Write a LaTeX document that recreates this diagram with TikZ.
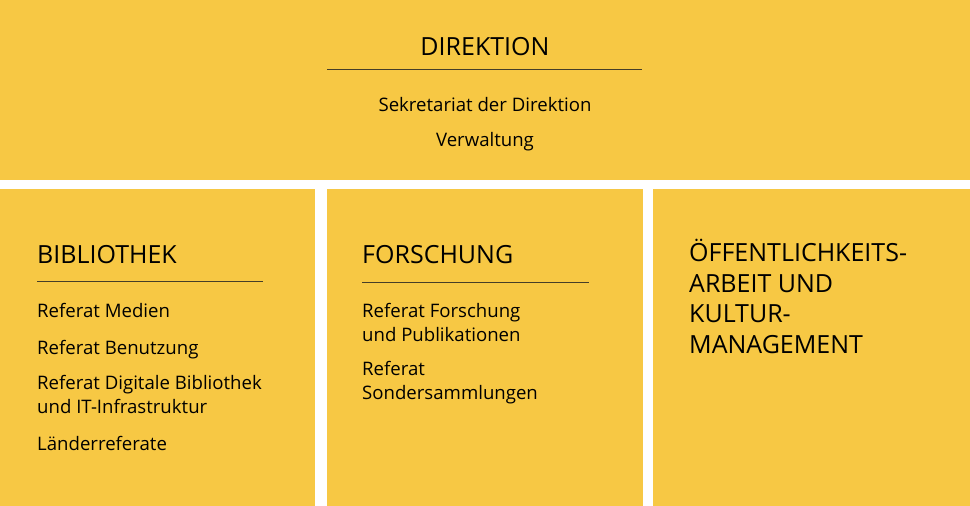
\documentclass[tikz,border=0pt]{standalone}
\usepackage{fontspec}
\setmainfont{Open Sans}
\definecolor{sunflower}{RGB}{247, 200, 68}
\definecolor{rulegray}{RGB}{70, 62, 40}

\tikzset{
  title/.style={anchor=base west, inner sep=0pt, font=\fontsize{25}{30.5}\selectfont, align=left},
  item/.style={anchor=base west, inner sep=0pt, font=\fontsize{18.6}{23.5}\selectfont, align=left},
  rulerline/.style={draw=rulegray, line width=0.9pt}
}

\begin{document}
\begin{tikzpicture}[x=1pt, y=-1pt]
    \useasboundingbox (0,0) rectangle (970,506);
    \fill[white]     (0,0) rectangle (970,506);
    \fill[sunflower] (0,0)   rectangle (970,180);
    \fill[sunflower] (0,189) rectangle (315,506);
    \fill[sunflower] (327,189) rectangle (643,506);
    \fill[sunflower] (653,189) rectangle (970,506);

    % direktion
    \node[title, anchor=base] (direktion) at (485,55) {DIREKTION};
    \coordinate (dirL) at (327,69);
    \coordinate (dirR) at (642,69);
    \draw[rulerline] (dirL) -- (dirR);
    \node[item, anchor=base] (sekretariat) at (485,111) {Sekretariat der Direktion};
    \node[item, anchor=base] (verwaltung)  at (485,146) {Verwaltung};

    % bibliothek
    \node[title] (bibliothek) at (37,263) {BIBLIOTHEK};
    \coordinate (bibL) at (37,281);
    \coordinate (bibR) at (263,281);
    \draw[rulerline] (bibL) -- (bibR);
    \node[item] (medien)    at (37,317) {Referat Medien};
    \node[item] (benutzung) at (37,354) {Referat Benutzung};
    \node[item] (digital)   at (37,413) {Referat Digitale Bibliothek\\und IT-Infrastruktur};
    \node[item] (laender)   at (37,450) {Länderreferate};

    % forschung
    \node[title] (forschung) at (362,263) {FORSCHUNG};
    \coordinate (forL) at (362,282);
    \coordinate (forR) at (589,282);
    \draw[rulerline] (forL) -- (forR);
    \node[item] (publikationen) at (362,341) {Referat Forschung\\und Publikationen};
    \node[item] (sonder)        at (362,399) {Referat\\Sondersammlungen};

    % oeffentlichkeitsarbeit
    \node[title] (oeffentlich) at (689,353) {ÖFFENTLICHKEITS-\\ARBEIT UND\\KULTUR-\\MANAGEMENT};
\end{tikzpicture}
\end{document}
